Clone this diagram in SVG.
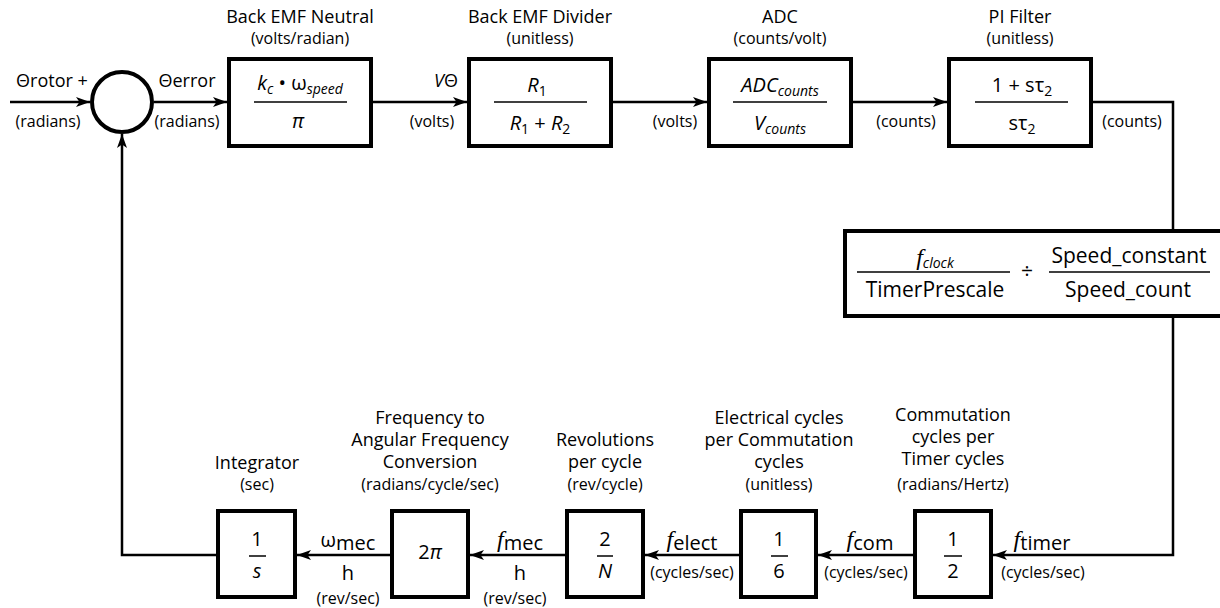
<svg xmlns="http://www.w3.org/2000/svg" width="1220" height="608" viewBox="0 0 1220 608">
<defs>
<style>
.t{font-family:"Open Sans","Noto Sans",sans-serif;fill:#000;text-anchor:middle}
.title{font-size:18px}
.unit{font-size:16px}
.math{font-size:20px}
.big{font-size:21px}
.it{font-style:italic}
.f{font-family:"Liberation Serif",serif;font-style:italic;font-size:24px}
.sub{font-size:14px}
.box{fill:#fff;stroke:#000;stroke-width:4}
.wire{fill:none;stroke:#000;stroke-width:2.5}
.frac{stroke:#000;stroke-width:1.5}
</style>
<marker id="arr" viewBox="0 0 14 10" markerWidth="14" markerHeight="10" refX="14" refY="5" orient="auto" markerUnits="userSpaceOnUse">
<path d="M0,0 L14,5 L0,10 L3.5,5 Z" fill="#000"/>
</marker>
</defs>
<rect width="1220" height="608" fill="#fff"/>

<g id="connectors">
<path class="wire" d="M10,102 H90" marker-end="url(#arr)"/>
<path class="wire" d="M154,102 H227" marker-end="url(#arr)"/>
<path class="wire" d="M373,102 H467" marker-end="url(#arr)"/>
<path class="wire" d="M613,102 H707" marker-end="url(#arr)"/>
<path class="wire" d="M853,102 H947" marker-end="url(#arr)"/>
<path class="wire" d="M1093,102 H1173 V229"/>
<path class="wire" d="M1173,318 V555 H993" marker-end="url(#arr)"/>
<path class="wire" d="M913,555 H818" marker-end="url(#arr)"/>
<path class="wire" d="M739,555 H645" marker-end="url(#arr)"/>
<path class="wire" d="M565,555 H470" marker-end="url(#arr)"/>
<path class="wire" d="M390,555 H297" marker-end="url(#arr)"/>
<path class="wire" d="M216,555 H122 V134" marker-end="url(#arr)"/>
</g>

<g id="edge-labels">
<text class="t title" x="52" y="87">Θrotor +</text>
<text class="t unit" x="48" y="127">(radians)</text>
<text class="t title" x="187" y="87">Θerror</text>
<text class="t unit" x="187" y="127">(radians)</text>
<text class="t title" x="446" y="87"><tspan class="it">V</tspan>Θ</text>
<text class="t unit" x="432" y="127">(volts)</text>
<text class="t unit" x="675" y="127">(volts)</text>
<text class="t unit" x="906" y="127">(counts)</text>
<text class="t unit" x="1132" y="127">(counts)</text>

<text class="t math" x="348" y="547">ω<tspan dy="3">mec</tspan></text>
<text class="t math" x="348" y="580">h</text>
<text class="t unit" x="348" y="604">(rev/sec)</text>
<text class="t math" x="520" y="547"><tspan class="f">f</tspan><tspan dy="3">mec</tspan></text>
<text class="t math" x="520" y="580">h</text>
<text class="t unit" x="515" y="604">(rev/sec)</text>
<text class="t math" x="692" y="547"><tspan class="f">f</tspan><tspan dy="3">elect</tspan></text>
<text class="t unit" x="692" y="578">(cycles/sec)</text>
<text class="t math" x="870" y="547"><tspan class="f">f</tspan><tspan dy="3">com</tspan></text>
<text class="t unit" x="866" y="578">(cycles/sec)</text>
<text class="t math" x="1042" y="547"><tspan class="f">f</tspan><tspan dy="3">timer</tspan></text>
<text class="t unit" x="1043" y="578">(cycles/sec)</text>
</g>

<g id="sum">
<circle cx="122" cy="102" r="30" fill="#fff" stroke="#000" stroke-width="4"/>
</g>

<g id="back-emf-neutral">
<text class="t title" x="300" y="23">Back EMF Neutral</text>
<text class="t unit" x="300" y="44">(volts/radian)</text>
<rect class="box" x="229" y="59" width="142" height="87"/>
<text class="t math" x="300" y="90"><tspan class="it">k</tspan><tspan class="it sub" dy="4">c</tspan><tspan dy="-4">  •  ω</tspan><tspan class="it sub" dy="4">speed</tspan></text>
<line class="frac" x1="254" y1="102" x2="347" y2="102"/>
<text class="t math it" x="298" y="128">π</text>
</g>

<g id="back-emf-divider">
<text class="t title" x="540" y="23">Back EMF Divider</text>
<text class="t unit" x="540" y="44">(unitless)</text>
<rect class="box" x="469" y="59" width="142" height="87"/>
<text class="t math" x="537" y="92"><tspan class="it">R</tspan><tspan class="sub" dy="4">1</tspan></text>
<line class="frac" x1="494" y1="102" x2="587" y2="102"/>
<text class="t math" x="540" y="130"><tspan class="it">R</tspan><tspan class="sub" dy="4">1</tspan><tspan dy="-4"> + </tspan><tspan class="it">R</tspan><tspan class="sub" dy="4">2</tspan></text>
</g>

<g id="adc">
<text class="t title" x="780" y="23">ADC</text>
<text class="t unit" x="780" y="44">(counts/volt)</text>
<rect class="box" x="709" y="59" width="142" height="87"/>
<text class="t math it" x="780" y="92">ADC<tspan class="sub" dy="4">counts</tspan></text>
<line class="frac" x1="733" y1="102" x2="827" y2="102"/>
<text class="t math it" x="780" y="130">V<tspan class="sub" dy="4">counts</tspan></text>
</g>

<g id="pi-filter">
<text class="t title" x="1020" y="23">PI Filter</text>
<text class="t unit" x="1020" y="44">(unitless)</text>
<rect class="box" x="949" y="59" width="142" height="87"/>
<text class="t math" x="1022" y="92">1 +  sτ<tspan class="sub" dy="4">2</tspan></text>
<line class="frac" x1="975" y1="102" x2="1068" y2="102"/>
<text class="t math" x="1022" y="130">sτ<tspan class="sub" dy="4">2</tspan></text>
</g>

<g id="speed-calc">
<rect class="box" x="845" y="231" width="380" height="85"/>
<text class="t big" x="935" y="265"><tspan class="f">f</tspan><tspan class="it sub" font-size="15" dy="3">clock</tspan></text>
<line class="frac" x1="857" y1="272" x2="1010" y2="272"/>
<text class="t big" x="935" y="297">TimerPrescale</text>
<text class="t big" x="1027" y="279">÷</text>
<text class="t big" x="1129" y="263">Speed_constant</text>
<line class="frac" x1="1049" y1="272" x2="1210" y2="272"/>
<text class="t big" x="1128" y="297">Speed_count</text>
</g>

<g id="integrator">
<text class="t title" x="257" y="469">Integrator</text>
<text class="t unit" x="257" y="490">(sec)</text>
<rect class="box" x="218" y="511" width="77" height="86"/>
<text class="t math" x="257" y="546">1</text>
<line class="frac" x1="249" y1="556" x2="266" y2="556"/>
<text class="t math it" x="257" y="578">s</text>
</g>

<g id="freq-to-angular">
<text class="t title" x="430" y="424">Frequency to</text>
<text class="t title" x="430" y="446">Angular Frequency</text>
<text class="t title" x="430" y="468">Conversion</text>
<text class="t unit" x="430" y="490">(radians/cycle/sec)</text>
<rect class="box" x="392" y="511" width="76" height="86"/>
<text class="t math" x="430" y="559">2<tspan class="it">π</tspan></text>
</g>

<g id="revolutions">
<text class="t title" x="605" y="446">Revolutions</text>
<text class="t title" x="605" y="468">per cycle</text>
<text class="t unit" x="605" y="490">(rev/cycle)</text>
<rect class="box" x="567" y="511" width="76" height="86"/>
<text class="t math" x="605" y="546">2</text>
<line class="frac" x1="597" y1="556" x2="613" y2="556"/>
<text class="t math it" x="605" y="578">N</text>
</g>

<g id="electrical-cycles">
<text class="t title" x="779" y="424">Electrical cycles</text>
<text class="t title" x="779" y="446">per Commutation</text>
<text class="t title" x="779" y="468">cycles</text>
<text class="t unit" x="779" y="490">(unitless)</text>
<rect class="box" x="741" y="511" width="75" height="86"/>
<text class="t math" x="779" y="546">1</text>
<line class="frac" x1="771" y1="556" x2="788" y2="556"/>
<text class="t math" x="779" y="578">6</text>
</g>

<g id="commutation-cycles">
<text class="t title" x="953" y="421">Commutation</text>
<text class="t title" x="953" y="443">cycles per</text>
<text class="t title" x="953" y="465">Timer cycles</text>
<text class="t unit" x="953" y="490">(radians/Hertz)</text>
<rect class="box" x="915" y="511" width="76" height="86"/>
<text class="t math" x="953" y="546">1</text>
<line class="frac" x1="944" y1="556" x2="962" y2="556"/>
<text class="t math" x="953" y="578">2</text>
</g>
</svg>
